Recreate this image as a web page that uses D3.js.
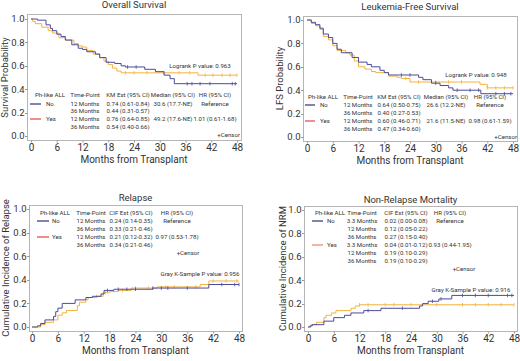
<!DOCTYPE html>
<html lang="en">
<head>
<meta charset="utf-8">
<title>Ph-like ALL transplant outcomes</title>
<style>
  body { margin: 0; background: #fff; }
  svg text { font-family: Roboto, "Noto Sans", sans-serif; fill: #333; }
</style>
</head>
<body>
<div id="chart"></div>
<script src="https://d3js.org/d3.v7.min.js"></script>
<script>
const monthTicks = [0, 6, 12, 18, 24, 30, 36, 42, 48];
const probTicks = [0, 0.2, 0.4, 0.6, 0.8, 1.0];

// step curves, [month, value]
const osNo = [[0,1],[1.5,0.99],[3.5,0.95],[4.5,0.92],[5,0.9],[6,0.87],[7,0.85],[8,0.82],[9.5,0.78],[11,0.75],[12,0.74],[13,0.72],[15,0.7],[16,0.67],[17.5,0.63],[19.5,0.62],[21,0.6],[22,0.59],[26.5,0.57],[29,0.55],[31,0.52],[32.4,0.49],[33.4,0.447],[48,0.447]];
const osYes = [[0,1],[0.4,0.98],[1,0.96],[2.5,0.93],[4,0.9],[5,0.88],[6.5,0.84],[8,0.82],[10,0.79],[11,0.77],[12,0.76],[13,0.73],[14.5,0.7],[16,0.67],[17,0.64],[18,0.61],[19,0.58],[20,0.555],[21,0.54],[38.9,0.52],[48,0.52]];
const lfsNo = [[0,1],[1,0.98],[2,0.96],[3,0.93],[3.8,0.88],[5,0.85],[6,0.8],[7,0.75],[8,0.72],[10.5,0.68],[12,0.64],[14,0.62],[15,0.6],[17,0.57],[18,0.55],[19,0.53],[26,0.51],[27,0.49],[29,0.46],[31,0.44],[33,0.42],[34,0.4],[40.5,0.37],[48,0.37]];
const lfsYes = [[0,1],[1,0.97],[2,0.95],[3,0.92],[3.8,0.86],[5,0.83],[6,0.78],[7,0.74],[9,0.72],[10,0.7],[11,0.65],[12,0.6],[13.5,0.58],[15,0.56],[16,0.55],[19,0.52],[21,0.51],[22,0.5],[24,0.47],[40.3,0.45],[42,0.42],[48,0.42]];
const relNo = [[0,0],[1.3,0.01],[2,0.03],[3,0.06],[5,0.09],[5.5,0.13],[6,0.16],[7,0.2],[10,0.23],[12.5,0.25],[14,0.26],[16,0.28],[16.7,0.31],[19,0.32],[28,0.33],[41,0.36],[48,0.36]];
const relYes = [[0,0],[2,0.02],[3,0.04],[5,0.06],[6,0.1],[7,0.12],[8,0.14],[10.5,0.18],[11,0.21],[12.5,0.23],[13,0.25],[15,0.26],[16.5,0.29],[18,0.3],[20,0.31],[23,0.33],[29,0.34],[39,0.36],[41,0.39],[48,0.39]];
const nrmNo = [[0,0],[0.5,0.01],[1,0.02],[3.7,0.05],[6,0.08],[8.5,0.1],[10,0.12],[13,0.14],[17,0.16],[26,0.18],[26.7,0.2],[28,0.22],[30.5,0.24],[33.5,0.27],[48,0.27]];
const nrmYes = [[0,0],[0.7,0.02],[2,0.04],[3.7,0.08],[4.2,0.1],[5.5,0.12],[6.5,0.14],[10,0.16],[11,0.18],[12,0.19],[48,0.19]];

// censor times (months)
const osNoCens = [22.5, 24.5, 36.4, 37.5, 39.4, 41.7, 46.9, 47.6];
const osYesCens = [22, 24, 27, 31, 34.5, 37, 40.6, 42.4, 44.5, 46.4, 48];
const lfsNoCens = [22, 24, 30, 35, 38, 40, 44, 46, 47.5];
const lfsYesCens = [23, 26, 30, 33, 36, 42, 44, 46, 48];
const relNoCens = [17.5, 20, 22, 24, 28, 30, 31.5, 36, 44, 47, 48];
const relYesCens = [15, 17, 21, 24, 27, 31, 33, 38, 42, 45, 47.5];
const nrmNoCens = [14, 22, 29, 31, 36, 39, 42, 46.5, 47.5];
const nrmYesCens = [12, 14, 18, 20, 24, 30, 36, 39, 42, 45, 48];

// tables
const osHeader = ["Ph-like ALL", "Time-Point", "KM Est (95% CI)", "Median (95% CI)", "HR (95% CI)"];
const osRows = [
  ["No", "12 Months", "0.74 (0.61-0.84)", "30.6 (17.7-NE)", "Reference"],
  ["", "36 Months", "0.44 (0.31-0.57)", "", ""],
  ["Yes", "12 Months", "0.76 (0.64-0.85)", "49.2 (17.6-NE)", "1.01 (0.61-1.68)"],
  ["", "36 Months", "0.54 (0.40-0.66)", "", ""]
];
const lfsHeader = ["Ph-like ALL", "Time-Point", "KM Est (95% CI)", "Median (95% CI)", "HR (95% CI)"];
const lfsRows = [
  ["No", "12 Months", "0.64 (0.50-0.75)", "26.6 (12.2-NE)", "Reference"],
  ["", "36 Months", "0.40 (0.27-0.53)", "", ""],
  ["Yes", "12 Months", "0.60 (0.46-0.71)", "21.6 (11.5-NE)", "0.98 (0.61-1.59)"],
  ["", "36 Months", "0.47 (0.34-0.60)", "", ""]
];
const relHeader = ["Ph-like ALL", "Time-Point", "CIF Est (95% CI)", "HR (95% CI)"];
const relRows = [
  ["No", "12 Months", "0.24 (0.14-0.35)", "Reference"],
  ["", "36 Months", "0.33 (0.21-0.46)", ""],
  ["Yes", "12 Months", "0.21 (0.12-0.32)", "0.97 (0.53-1.78)"],
  ["", "36 Months", "0.34 (0.21-0.46)", ""]
];
const nrmHeader = ["Ph-like ALL", "Time-Point", "CIF Est (95% CI)", "HR (95% CI)"];
const nrmRows = [
  ["No", "3.3 Months", "0.02 (0.00-0.08)", "Reference"],
  ["", "12 Months", "0.12 (0.05-0.22)", ""],
  ["", "36 Months", "0.27 (0.15-0.40)", ""],
  ["Yes", "3.3 Months", "0.04 (0.01-0.12)", "0.93 (0.44-1.95)"],
  ["", "12 Months", "0.19 (0.10-0.29)", ""],
  ["", "36 Months", "0.19 (0.10-0.29)", ""]
];

const navy = "#4b4b9b";
const gold = "#f3b33f";

const svg = d3.select("#chart").append("svg")
  .attr("width", 520).attr("height", 361);

const panels = [
  { title: "Overall Survival", yTitle: "Survival Probability", yTitleX: 5,
    xr: [31, 237], yr: [136, 19], frame: [27, 14, 241, 140], titleY: 5,
    no: osNo, yes: osYes, noC: osNoCens, yesC: osYesCens,
    header: osHeader, rows: osRows, cols: [50, 85, 128, 173, 215], rowY: [95, 104, 111, 119, 127],
    grpX: 46, legX: [30, 41], legYes: "#e2433d",
    pText: "Logrank P value: 0.963", pX: 200, pY: 66, cX: 240, cY: 135, cAnchor: "end" },
  { title: "Leukemia-Free Survival", yTitle: "LFS Probability", yTitleX: 280,
    xr: [307, 513], yr: [137, 20], frame: [303, 16, 517, 141], titleY: 7,
    no: lfsNo, yes: lfsYes, noC: lfsNoCens, yesC: lfsYesCens,
    header: lfsHeader, rows: lfsRows, cols: [323, 358, 399, 446, 490], rowY: [97, 105, 113, 121, 129],
    grpX: 320, legX: [305, 315], legYes: "#e2433d",
    pText: "Logrank P value: 0.948", pX: 476, pY: 75, cX: 517, cY: 137, cAnchor: "end" },
  { title: "Relapse", yTitle: "Cumulative Incidence of Relapse", yTitleX: 6,
    xr: [32, 239], yr: [327, 209], frame: [29, 205, 242, 331], titleY: 198,
    no: relNo, yes: relYes, noC: relNoCens, yesC: relYesCens,
    header: relHeader, rows: relRows, cols: [55, 91, 131, 177], rowY: [213, 221, 229, 237, 245],
    grpX: 52, legX: [37, 49], legYes: "#e2433d",
    pText: "Gray K-Sample P value: 0.956", pX: 200, pY: 274, cX: 188, cY: 253, cAnchor: "middle" },
  { title: "Non-Relapse Mortality", yTitle: "Cumulative Incidence of NRM", yTitleX: 283,
    xr: [308, 514], yr: [327, 210], frame: [304, 206, 517, 331], titleY: 200,
    no: nrmNo, yes: nrmYes, noC: nrmNoCens, yesC: nrmYesCens,
    header: nrmHeader, rows: nrmRows, cols: [330, 362, 406, 450], rowY: [213, 221, 229, 237, 245, 253, 261],
    grpX: 327, legX: [312, 323], legYes: "#e8875a",
    pText: "Gray K-Sample P value: 0.916", pX: 471, pY: 290, cX: 464, cY: 269, cAnchor: "middle" }
];

function stepAt(curve, t) {
  let v = curve[0][1];
  for (const p of curve) { if (p[0] <= t) v = p[1]; }
  return v;
}

panels.forEach(p => {
  const g = svg.append("g");
  const x = d3.scaleLinear().domain([0, 48]).range(p.xr);
  const y = d3.scaleLinear().domain([0, 1]).range(p.yr);
  const [fl, ft, fr, fb] = p.frame;

  g.append("rect")
    .attr("x", fl + 0.5).attr("y", ft + 0.5)
    .attr("width", fr - fl).attr("height", fb - ft)
    .attr("fill", "none").attr("stroke", "#b5b5b5");

  // y axis ticks + labels
  g.selectAll(null).data(probTicks).enter().append("line")
    .attr("x1", fl - 2).attr("x2", fl + 0.5)
    .attr("y1", d => Math.round(y(d)) + 0.5).attr("y2", d => Math.round(y(d)) + 0.5)
    .attr("stroke", "#999");
  g.selectAll(null).data(probTicks).enter().append("text")
    .attr("x", fl - 2.5).attr("y", d => y(d)).attr("dy", "0.35em")
    .attr("text-anchor", "end").attr("font-size", 9.5)
    .text(d => d.toFixed(1));

  // x axis
  const xAx = g.append("g").attr("transform", `translate(0,${fb + 0.5})`)
    .call(d3.axisBottom(x).tickValues(monthTicks).tickSize(2).tickPadding(1));
  xAx.select(".domain").remove();
  xAx.selectAll("line").attr("stroke", "#999");
  xAx.selectAll("text").attr("font-size", 10);

  g.append("text").attr("x", (fl + fr) / 2).attr("y", p.titleY).attr("dy", "0.35em")
    .attr("text-anchor", "middle").attr("font-size", 9.5).text(p.title);
  g.append("text").attr("x", (fl + fr) / 2).attr("y", fb + 19).attr("dy", "0.35em")
    .attr("text-anchor", "middle").attr("font-size", 10).text("Months from Transplant");
  g.append("text")
    .attr("transform", `translate(${p.yTitleX},${(p.yr[0] + p.yr[1]) / 2}) rotate(-90)`)
    .attr("dy", "0.35em").attr("text-anchor", "middle").attr("font-size", 9.5).text(p.yTitle);

  const line = d3.line().x(d => x(d[0])).y(d => y(d[1])).curve(d3.curveStepAfter);
  [[p.yes, gold, p.yesC], [p.no, navy, p.noC]].forEach(([curve, col, cens]) => {
    g.append("path").datum(curve).attr("d", line)
      .attr("fill", "none").attr("stroke", col).attr("stroke-width", 1);
    g.selectAll(null).data(cens).enter().append("line")
      .attr("x1", d => x(d)).attr("x2", d => x(d))
      .attr("y1", d => y(stepAt(curve, d)) - 1.8).attr("y2", d => y(stepAt(curve, d)) + 1.8)
      .attr("stroke", col).attr("stroke-width", 0.8);
  });

  // table
  const fs = 6.1;
  p.header.forEach((h, i) => {
    g.append("text").attr("x", p.cols[i]).attr("y", p.rowY[0]).attr("dy", "0.35em")
      .attr("text-anchor", "middle").attr("font-size", fs).text(h);
  });
  p.rows.forEach((r, ri) => {
    const yy = p.rowY[ri + 1];
    r.forEach((c, ci) => {
      if (!c) return;
      if (ci === 0) {
        g.append("line").attr("x1", p.legX[0]).attr("x2", p.legX[1]).attr("y1", yy).attr("y2", yy)
          .attr("stroke", c === "No" ? "#2f2f7f" : p.legYes).attr("stroke-width", 1.2);
        g.append("text").attr("x", p.grpX).attr("y", yy).attr("dy", "0.35em")
          .attr("font-size", fs).text(c);
      } else {
        g.append("text").attr("x", p.cols[ci]).attr("y", yy).attr("dy", "0.35em")
          .attr("text-anchor", "middle").attr("font-size", fs).text(c);
      }
    });
  });

  g.append("text").attr("x", p.pX).attr("y", p.pY).attr("dy", "0.35em")
    .attr("text-anchor", "middle").attr("font-size", fs).text(p.pText);
  g.append("text").attr("x", p.cX).attr("y", p.cY).attr("dy", "0.35em")
    .attr("text-anchor", p.cAnchor).attr("font-size", fs).text("+Censor");
});
</script>
</body>
</html>
